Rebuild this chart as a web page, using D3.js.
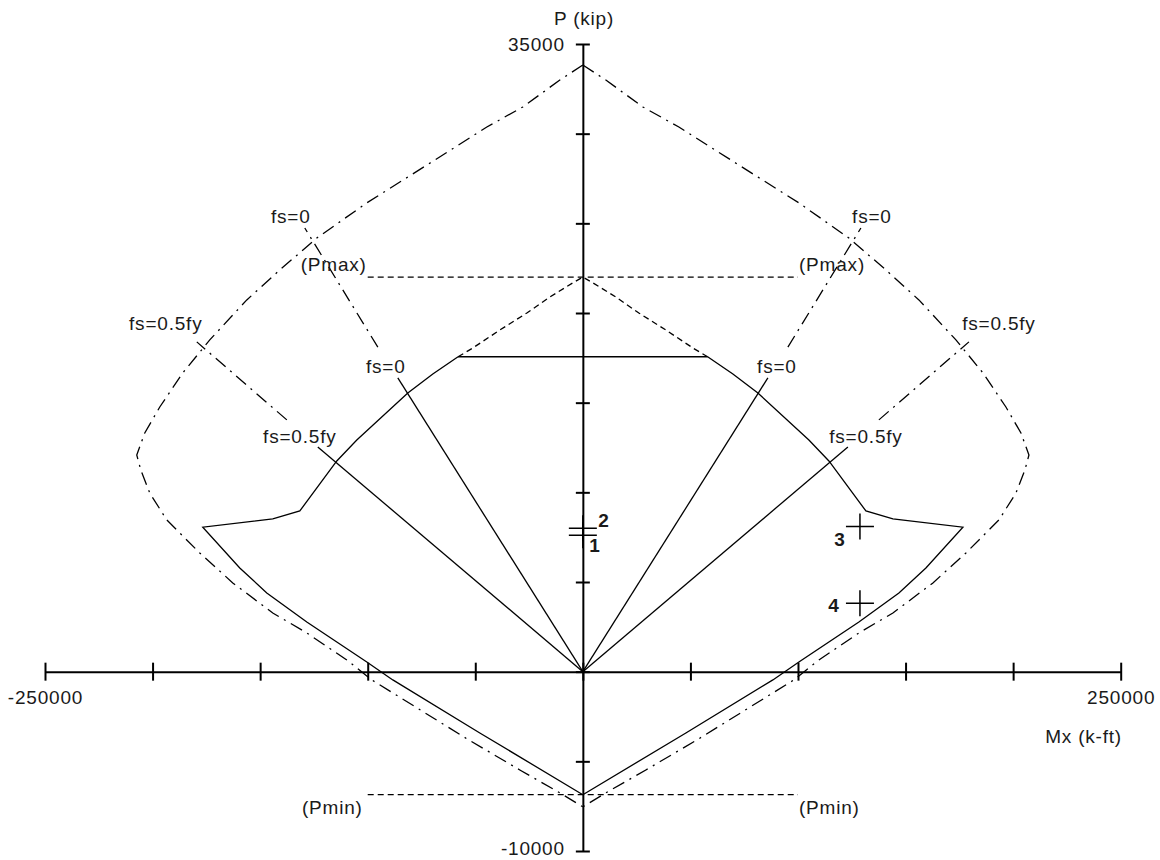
<!DOCTYPE html>
<html>
<head>
<meta charset="utf-8">
<script src="https://cdn.jsdelivr.net/npm/d3@7"></script>
<style>
  html, body { margin: 0; padding: 0; background: #fff; }
  svg text { font-family: "Liberation Sans", Arial, sans-serif; fill: #1a1a1a; letter-spacing: 0.8px; }
</style>
</head>
<body>
<svg id="chart" width="1160" height="860"></svg>
<script>
// P-M interaction diagram (Mx vs P), nominal + design envelopes, load points.

const X_TICKS = [-250000, -200000, -150000, -100000, -50000, 0, 50000, 100000, 150000, 200000, 250000];
const Y_TICKS = [-10000, -5000, 0, 5000, 10000, 15000, 20000, 25000, 30000, 35000];
const X_LABELED = [-250000, 250000];
const Y_LABELED = [-10000, 35000];

// nominal strength (Mn, Pn), dash-dot, top -> bottom
const NOMINAL_LEFT = [
  [0, 33830], [-10690, 32990], [-27890, 31490], [-44630, 30370], [-72520, 28250],
  [-100420, 26140], [-123660, 24180], [-140860, 22400], [-156200, 20730], [-173410, 18500],
  [-185960, 16660], [-196650, 14760], [-203630, 13310], [-207350, 12080], [-205490, 11250],
  [-201300, 9960], [-193400, 8460], [-178060, 6620], [-162720, 4950], [-144120, 3270],
  [-128310, 2160], [-109720, 650], [-98090, -460], [-53000, -3810], [-29290, -5480],
  [-10690, -6760], [0, -7540]
];
const NOMINAL_RIGHT = [
  [0, 33830], [10690, 32990], [27890, 31490], [44630, 30370], [72520, 28250],
  [100420, 26140], [123660, 24180], [140860, 22400], [156200, 20730], [173410, 18500],
  [185960, 16660], [196650, 14760], [203630, 13310], [207350, 12080], [205490, 11250],
  [201300, 9960], [193400, 8460], [178060, 6620], [162720, 4950], [144120, 3270],
  [128310, 2160], [109720, 650], [98090, -460], [53000, -3810], [29290, -5480],
  [10690, -6760], [0, -7540]
];

// design strength (phi Mn, phi Pn), solid, from the cap down
const DESIGN_LEFT = [
  [-58000, 17560], [-69740, 16600], [-81360, 15540], [-105070, 12920], [-114370, 11750],
  [-131570, 8960], [-144120, 8520], [-176660, 8060], [-159460, 5780], [-146910, 4390],
  [-128310, 2770], [-100420, 540], [-88330, -460], [-47890, -3420], [0, -6860]
];
const DESIGN_RIGHT = [
  [58000, 17560], [69740, 16600], [81360, 15540], [105070, 12920], [114370, 11750],
  [131570, 8960], [144120, 8520], [176660, 8060], [159460, 5780], [146910, 4390],
  [128310, 2770], [100420, 540], [88330, -460], [47890, -3420], [0, -6860]
];
// design curve above the Pmax cap (dotted)
const CAP_LEFT = [[-58000, 17560], [-51140, 18050], [-38590, 19050], [-26030, 20000], [-15340, 20890], [-4650, 21680], [0, 22000]];
const CAP_RIGHT = [[58000, 17560], [51140, 18050], [38590, 19050], [26030, 20000], [15340, 20890], [4650, 21680], [0, 22000]];

const PMAX = 22000;
const PMIN = -6860;
const LIMIT_M = [-100000, 100000];

// strain rays: solid origin->solidEnd, dash-dot dashStart->dashEnd
const RAYS = [
  { label: 'fs=0',     solidEnd: [-86000, 16380],  dashStart: [-95300, 18100],  dashEnd: [-129240, 24740], inner: [-91600, 17050],  outer: [-135750, 25410] },
  { label: 'fs=0.5fy', solidEnd: [-123200, 12530], dashStart: [-137600, 14040], dashEnd: [-179450, 18390], inner: [-131570, 13140], outer: [-193860, 19440] },
  { label: 'fs=0',     solidEnd: [86000, 16380],   dashStart: [95300, 18100],   dashEnd: [129240, 24740],  inner: [90200, 17050],   outer: [134360, 25410] },
  { label: 'fs=0.5fy', solidEnd: [123200, 12530],  dashStart: [137600, 14040],  dashEnd: [179450, 18390],  inner: [131570, 13140],  outer: [193400, 19440] }
];

const LOAD_IDS = ['1', '2', '3', '4'];
const LOAD_M = [0, 0, 128800, 128800];
const LOAD_P = [7600, 8000, 8090, 3810];

const svg = d3.select('#chart');

const x = d3.scaleLinear().domain([-250000, 250000]).range([45, 1120.7]);
const y = d3.scaleLinear().domain([-10000, 35000]).range([851, 44]);

const line = d3.line().x(d => x(d[0])).y(d => y(d[1]));
const DASHDOT = '13,6,2,6';
const DOTTED = '6,4';

// axes
const xAxis = d3.axisBottom(x).tickValues(X_TICKS).tickSizeInner(9).tickSizeOuter(0).tickPadding(10)
  .tickFormat(d => X_LABELED.includes(d) ? String(d) : '');
const gx = svg.append('g').attr('transform', `translate(0,${y(0)})`).call(xAxis);
gx.selectAll('.tick line').attr('y1', -9).attr('stroke-width', 2);

const yAxis = d3.axisLeft(y).tickValues(Y_TICKS).tickSizeInner(7).tickSizeOuter(0).tickPadding(11)
  .tickFormat(d => Y_LABELED.includes(d) ? String(d) : '');
const gy = svg.append('g').attr('transform', `translate(${x(0)},0)`).call(yAxis);
gy.selectAll('.tick line').attr('x1', 7).attr('stroke-width', 2);
gy.selectAll('.tick text').attr('dy', d => d === -10000 ? '0.2em' : '0.32em');

[gx, gy].forEach(g => {
  g.attr('font-family', null).attr('font-size', 19);
  g.select('.domain').attr('stroke', '#000').attr('stroke-width', 2);
  g.selectAll('.tick line').attr('stroke', '#000');
  g.selectAll('.tick text').attr('fill', '#1a1a1a');
});

svg.append('text').attr('x', 584).attr('y', 25).attr('text-anchor', 'middle').attr('font-size', 19).text('P (kip)');
svg.append('text').attr('x', 1122).attr('y', 743).attr('text-anchor', 'end').attr('font-size', 19).text('Mx (k-ft)');

const curves = svg.append('g').attr('fill', 'none').attr('stroke', '#000').attr('stroke-width', 1.3);

// nominal envelope
[NOMINAL_LEFT, NOMINAL_RIGHT].forEach(c => {
  curves.append('path').attr('d', line(c)).attr('stroke-dasharray', DASHDOT);
});
// design envelope + flat cap
[DESIGN_LEFT, DESIGN_RIGHT].forEach(c => curves.append('path').attr('d', line(c)));
curves.append('path').attr('d', line([DESIGN_LEFT[0], DESIGN_RIGHT[0]]));
[CAP_LEFT, CAP_RIGHT].forEach(c => curves.append('path').attr('d', line(c)).attr('stroke-dasharray', DOTTED));

// Pmax / Pmin limits
[PMAX, PMIN].forEach(p => {
  curves.append('path').attr('d', line(LIMIT_M.map(m => [m, p]))).attr('stroke-dasharray', DOTTED);
});
const lim = svg.append('g').attr('font-size', 19);
lim.append('text').attr('x', x(LIMIT_M[0]) - 1).attr('y', y(PMAX) - 6).attr('text-anchor', 'end').text('(Pmax)');
lim.append('text').attr('x', x(LIMIT_M[1]) + 1).attr('y', y(PMAX) - 6).attr('text-anchor', 'start').text('(Pmax)');
lim.append('text').attr('x', x(LIMIT_M[0]) - 5).attr('y', y(PMIN) + 19).attr('text-anchor', 'end').text('(Pmin)');
lim.append('text').attr('x', x(LIMIT_M[1]) + 1).attr('y', y(PMIN) + 19).attr('text-anchor', 'start').text('(Pmin)');

// strain rays
RAYS.forEach(r => {
  curves.append('path').attr('d', line([[0, 0], r.solidEnd]));
  curves.append('path').attr('d', line([r.dashStart, r.dashEnd])).attr('stroke-dasharray', DASHDOT);
  [r.inner, r.outer].forEach(p => {
    lim.append('text').attr('x', x(p[0])).attr('y', y(p[1])).attr('dy', '0.35em')
      .attr('text-anchor', 'middle').text(r.label);
  });
});

// load points
const LABEL_OFFSET = { '1': [12, 10], '2': [21, -8], '3': [-20, 13], '4': [-26, 2] };
const pts = svg.append('g');
LOAD_IDS.forEach((id, i) => {
  const cx = x(LOAD_M[i]), cy = y(LOAD_P[i]);
  pts.append('path').attr('d', `M${cx - 14},${cy}H${cx + 14}M${cx},${cy - 13}V${cy + 13}`)
    .attr('stroke', '#000').attr('stroke-width', 1.5).attr('fill', 'none');
  const o = LABEL_OFFSET[id];
  pts.append('text').attr('x', cx + o[0]).attr('y', cy + o[1]).attr('dy', '0.35em')
    .attr('text-anchor', 'middle').attr('font-size', 19).attr('font-weight', 'bold').text(id);
});
</script>
</body>
</html>
